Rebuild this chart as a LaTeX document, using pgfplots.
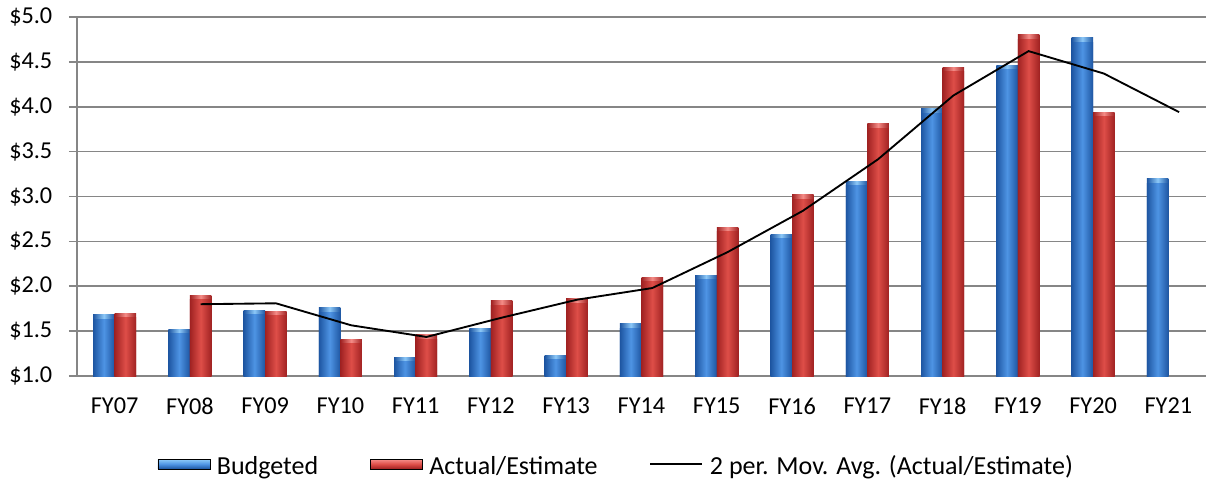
\documentclass[border=0pt]{standalone}
\usepackage{pgfplots}
\pgfplotsset{compat=1.18}
\usepackage{pgfplotstable}
\usepackage{fontspec}
\setmainfont{Carlito}

\definecolor{bdark}{RGB}{30,86,162}
\definecolor{blight}{RGB}{78,148,228}
\definecolor{bcap}{RGB}{140,200,248}
\definecolor{rdark}{RGB}{160,34,34}
\definecolor{rlight}{RGB}{222,78,72}
\definecolor{rcap}{RGB}{245,140,135}
\definecolor{gridgray}{RGB}{134,134,134}

% x = fiscal year index (0 = FY07)
\pgfplotstableread{
x  budget  actual  mavg
0  1.68    1.70    nan
1  1.52    1.90    1.80
2  1.73    1.72    1.81
3  1.76    1.41    1.565
4  1.21    1.46    1.435
5  1.53    1.84    1.65
6  1.23    1.86    1.85
7  1.58    2.10    1.98
8  2.12    2.66    2.38
9  2.58    3.02    2.84
10 3.17    3.81    3.415
11 3.98    4.44    4.125
12 4.46    4.80    4.62
13 4.77    3.94    4.37
14 3.20    nan     3.94
}\datatable

\pgfplotsset{
  cylbar/.style n args={4}{ybar, bar width=0.286, bar shift=#1, draw=none,
    left color=#2, right color=#2, middle color=#3, forget plot},
}

\begin{document}
\begin{tikzpicture}
\begin{axis}[
  at={(0pt,0pt)}, anchor=south west,
  scale only axis,
  width=846.75pt, height=269.25pt,
  xmin=-0.5, xmax=14.5,
  ymin=1, ymax=5,
  axis x line*=bottom, axis y line*=left,
  axis line style={gridgray, line width=1.3pt, -},
  xtick={0,...,14},
  xticklabels={FY07,FY08,FY09,FY10,FY11,FY12,FY13,FY14,FY15,FY16,FY17,FY18,FY19,FY20,FY21},
  minor xtick={-0.5,0.5,...,14.5},
  x tick style={draw=none},
  minor x tick style={gridgray, line width=1.3pt},
  minor tick length=6pt,
  ytick={1,1.5,...,5},
  yticklabels={\$1.0,\$1.5,\$2.0,\$2.5,\$3.0,\$3.5,\$4.0,\$4.5,\$5.0},
  y tick style={gridgray, line width=1.3pt},
  major tick length=6pt,
  tick align=outside,
  tick pos=left,
  ymajorgrids,
  grid style={gridgray, line width=1.3pt},
  tick label style={font=\fontsize{18.2pt}{21pt}\selectfont},
  xticklabel shift=7pt,
  yticklabel shift=9pt,
  legend style={at={(0.478,-0.251)}, anchor=center, draw=none, fill=none,
    legend columns=-1, font=\fontsize{19.5pt}{22pt}\selectfont,
    /tikz/every even column/.append style={column sep=37pt},
    /tikz/every odd column/.append style={column sep=3pt}},
  legend cell align=left,
]
% budgeted bars, one plot per bar so each gets its own cylinder shading
\pgfplotsinvokeforeach{0,...,14}{
  \addplot[cylbar={-0.143}{bdark}{bcap}{}, restrict x to domain=#1:#1]
    table[x=x, y=budget] {\datatable};
  \addplot[cylbar={-0.143}{bdark}{blight}{}, restrict x to domain=#1:#1]
    table[x=x, y expr=\thisrow{budget}-0.05] {\datatable};
}
% actual / estimate bars (no FY21 value)
\pgfplotsinvokeforeach{0,...,13}{
  \addplot[cylbar={0.143}{rdark}{rcap}{}, restrict x to domain=#1:#1]
    table[x=x, y=actual] {\datatable};
  \addplot[cylbar={0.143}{rdark}{rlight}{}, restrict x to domain=#1:#1]
    table[x=x, y expr=\thisrow{actual}-0.05] {\datatable};
}
% two-period moving average of actual / estimate
\addplot[black, line width=1.4pt, mark=none, forget plot]
  table[x expr=\thisrow{x}+0.143, y=mavg] {\datatable};

\addlegendimage{legend image code/.code={
  \fill[top color=bcap, bottom color=bdark, middle color=blight] (0pt,-0.2em) rectangle (39pt,0.5em);}}
\addlegendentry{Budgeted}
\addlegendimage{legend image code/.code={
  \fill[top color=rcap, bottom color=rdark, middle color=rlight] (0pt,-0.2em) rectangle (39pt,0.5em);}}
\addlegendentry{Actual/Estimate}
\addlegendimage{legend image code/.code={
  \draw[black, line width=1.2pt] (0pt,0.15em) -- (39pt,0.15em);}}
\addlegendentry{2 per. Mov. Avg. (Actual/Estimate)}
\end{axis}
\pgfresetboundingbox
\path (-57.75pt,-79.5pt) rectangle (847.5pt,282pt);
\end{tikzpicture}
\end{document}
